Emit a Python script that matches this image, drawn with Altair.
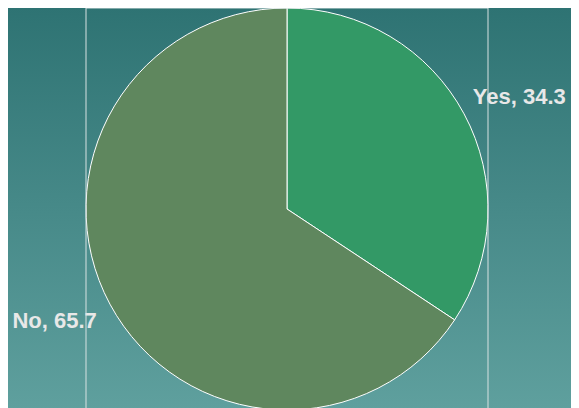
import altair as alt
import pandas as pd

categories = ["Yes", "No"]
values = [34.3, 65.7]
labels = ["Yes, 34.3", "No, 65.7"]
order = [0, 1]
colors = ["#339966", "#5f875e"]

df = pd.DataFrame({"cat": categories, "value": values, "label": labels, "ord": order})
bg = pd.DataFrame({"a": [0]})

gradient = alt.Gradient(
    gradient="linear",
    stops=[alt.GradientStop(color="#2e7373", offset=0),
           alt.GradientStop(color="#5fa09e", offset=1)],
    x1=0, x2=0, y1=0, y2=1,
)

background = alt.Chart(bg).mark_rect(color=gradient).encode(
    x=alt.value(-78), x2=alt.value(485), y=alt.value(-1), y2=alt.value(403)
)

pie = alt.Chart(df).mark_arc(stroke="white", strokeWidth=1, radius=201).encode(
    theta=alt.Theta("value:Q", stack=True),
    order=alt.Order("ord:Q"),
    color=alt.Color("cat:N", scale=alt.Scale(domain=categories, range=colors), legend=None),
)

text = alt.Chart(df).mark_text(
    radius=258, fontSize=22, fontWeight="bold", font="Liberation Sans",
    color="#e8e8e8", align="center", baseline="middle"
).encode(
    theta=alt.Theta("value:Q", stack=True, scale=alt.Scale(range=[0.0436, 6.3268])),
    order=alt.Order("ord:Q"),
    text="label:N",
)

frame = alt.Chart(bg).mark_rect(fill=None, fillOpacity=0, stroke="#d8e2e2", strokeWidth=1).encode(
    x=alt.value(0), x2=alt.value(402), y=alt.value(0), y2=alt.value(402)
)

chart = alt.layer(background, pie, text, frame).resolve_scale(theta="independent").properties(
    width=402, height=402,
    padding={"left": 78, "top": 0, "right": 83, "bottom": 0},
    autosize=alt.AutoSizeParams(type="none"),
    background="#4a8c8a",
).configure_view(strokeWidth=0)

chart.save("out.html", embed_options={"renderer": "svg", "actions": False})
